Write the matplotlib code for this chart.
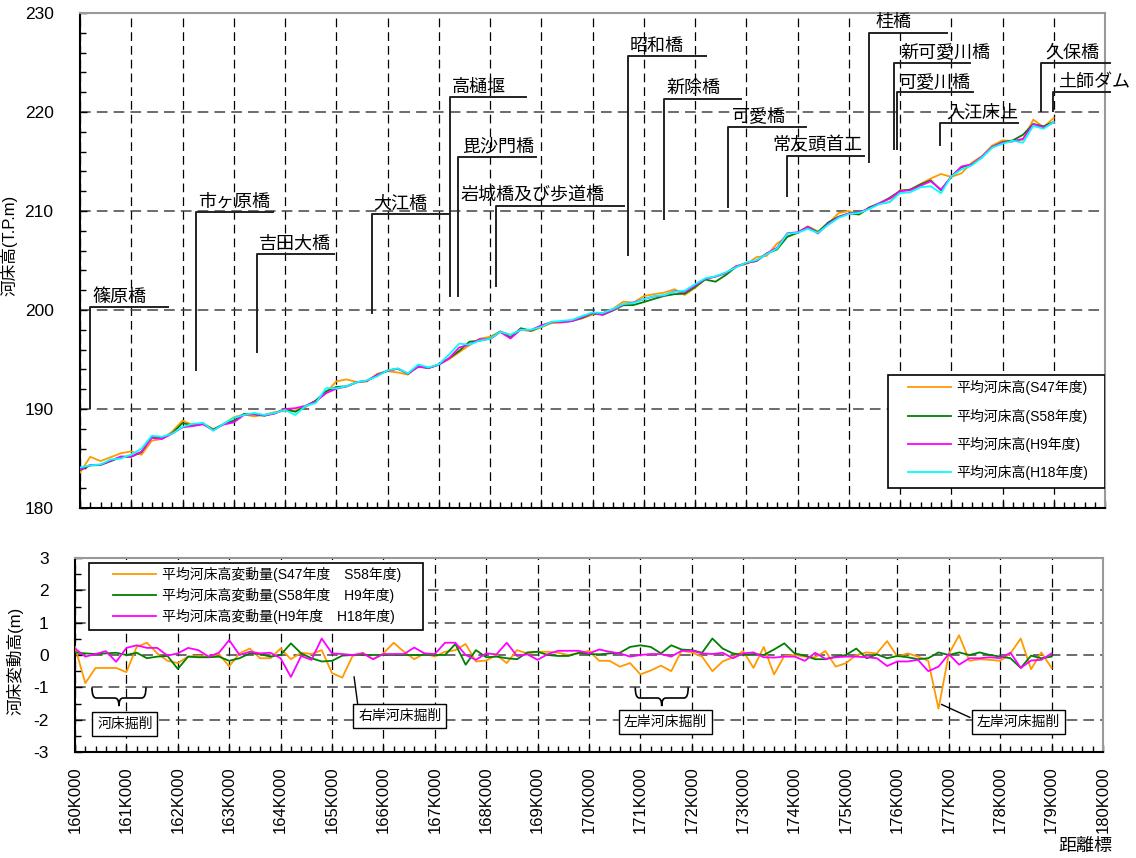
import numpy as np
import matplotlib
matplotlib.use('Agg')
import matplotlib.pyplot as plt
from matplotlib.ticker import MultipleLocator
from matplotlib.patches import Rectangle, PathPatch
from matplotlib.path import Path

plt.rcParams['font.family'] = ['Liberation Sans', 'Noto Sans CJK JP', 'DejaVu Sans']
plt.rcParams['axes.unicode_minus'] = False

# distance stations (km), every 200 m
km = [160.0, 160.2, 160.4, 160.6, 160.8, 161.0, 161.2, 161.4, 161.6, 161.8,
      162.0, 162.2, 162.4, 162.6, 162.8, 163.0, 163.2, 163.4, 163.6, 163.8,
      164.0, 164.2, 164.4, 164.6, 164.8, 165.0, 165.2, 165.4, 165.6, 165.8,
      166.0, 166.2, 166.4, 166.6, 166.8, 167.0, 167.2, 167.4, 167.6, 167.8,
      168.0, 168.2, 168.4, 168.6, 168.8, 169.0, 169.2, 169.4, 169.6, 169.8,
      170.0, 170.2, 170.4, 170.6, 170.8, 171.0, 171.2, 171.4, 171.6, 171.8,
      172.0, 172.2, 172.4, 172.6, 172.8, 173.0, 173.2, 173.4, 173.6, 173.8,
      174.0, 174.2, 174.4, 174.6, 174.8, 175.0, 175.2, 175.4, 175.6, 175.8,
      176.0, 176.2, 176.4, 176.6, 176.8, 177.0, 177.2, 177.4, 177.6, 177.8,
      178.0, 178.2, 178.4, 178.6, 178.8, 179.0]

# mean bed elevation H18 (T.P.m)
bed_h18 = [184.1, 184.3, 184.4, 184.9, 185.0, 185.4, 186.0, 187.3, 187.2, 187.5,
           188.2, 188.5, 188.6, 187.8, 188.5, 189.1, 189.4, 189.6, 189.4, 189.6,
           189.9, 189.4, 190.3, 190.6, 192.1, 192.1, 192.3, 192.7, 192.9, 193.3,
           193.9, 194.1, 193.6, 194.5, 194.2, 194.5, 195.5, 196.6, 196.5, 196.9,
           197.1, 197.8, 197.5, 198.0, 198.0, 198.3, 198.8, 198.9, 199.0, 199.4,
           199.75, 199.7, 200.1, 200.6, 200.7, 201.1, 201.4, 201.5, 201.85, 201.95,
           202.6, 203.2, 203.4, 203.8, 204.3, 204.8, 205.05, 205.65, 206.2, 207.7,
           207.8, 208.2, 207.8, 208.6, 209.3, 209.7, 209.8, 210.2, 210.7, 210.9,
           211.8, 211.9, 212.4, 212.5, 211.8, 213.5, 214.2, 214.6, 215.4, 216.4,
           216.8, 217.1, 216.9, 218.6, 218.3, 219.0]

# bed change (m)
chg_s47_s58 = [0.25, -0.87, -0.4, -0.4, -0.4, -0.53, 0.25, 0.38, 0.05, -0.18,
               -0.25, -0.05, -0.03, -0.05, 0.03, -0.35, 0.05, 0.2, -0.1, -0.1,
               0.2, -0.13, 0.07, 0.03, 0.15, -0.56, -0.7, -0.03, 0.07, -0.13,
               0.05, 0.38, 0.1, -0.13, 0.05, -0.05, 0.1, 0.15, 0.34, -0.2,
               -0.17, 0.0, -0.25, 0.15, 0.05, 0.1, 0.1, 0.07, 0.0, 0.05,
               0.13, -0.18, -0.18, -0.36, -0.25, -0.6, -0.48, -0.33, -0.5, 0.13,
               0.08, -0.05, -0.5, -0.2, -0.07, 0.12, -0.4, 0.25, -0.6, -0.03,
               0.0, -0.05, -0.07, 0.12, -0.36, -0.25, 0.0, 0.08, 0.05, 0.43,
               -0.05, 0.05, -0.05, -0.18, -1.66, 0.03, 0.61, -0.18, -0.13, -0.15,
               -0.18, 0.05, 0.51, -0.44, 0.08, -0.4]
chg_s58_h9 = [0.08, 0.05, 0.03, 0.05, 0.07, 0.0, 0.07, -0.1, -0.05, -0.03,
              -0.43, -0.05, -0.07, -0.07, -0.05, -0.18, -0.1, 0.05, 0.03, -0.05,
              0.0, 0.36, 0.05, -0.1, -0.2, -0.18, -0.02, 0.0, 0.0, 0.0,
              0.0, 0.0, 0.0, 0.0, 0.0, 0.0, 0.0, 0.34, -0.3, 0.15,
              -0.07, -0.05, -0.1, -0.13, 0.08, 0.1, 0.0, -0.03, -0.03, 0.07,
              0.03, 0.02, 0.05, 0.07, 0.25, 0.3, 0.25, 0.05, 0.3, 0.17,
              0.15, 0.07, 0.51, 0.2, 0.05, 0.0, 0.03, 0.0, 0.17, 0.36,
              0.05, -0.02, -0.13, -0.13, -0.05, 0.0, 0.2, -0.1, 0.02, -0.1,
              -0.03, -0.07, -0.13, -0.1, 0.08, 0.0, 0.08, 0.0, 0.08, 0.0,
              -0.05, -0.1, -0.4, -0.02, -0.1, -0.05]
chg_h9_h18 = [0.2, -0.05, 0.03, 0.12, -0.21, 0.22, 0.3, 0.22, 0.22, -0.02,
              0.05, 0.22, 0.15, -0.05, 0.07, 0.46, 0.0, 0.1, 0.05, 0.07,
              -0.1, -0.68, -0.03, -0.15, 0.51, 0.05, 0.03, 0.0, 0.05, -0.13,
              0.03, 0.03, 0.03, 0.23, 0.05, 0.03, 0.38, 0.38, 0.0, -0.15,
              0.05, 0.02, 0.38, -0.03, 0.02, -0.15, 0.03, 0.13, 0.13, 0.13,
              0.05, 0.17, 0.1, 0.05, -0.05, 0.0, 0.03, 0.03, -0.05, 0.13,
              0.13, 0.05, 0.03, 0.07, -0.1, 0.05, 0.08, -0.07, -0.08, -0.05,
              -0.05, -0.18, 0.07, -0.12, -0.07, -0.05, -0.05, -0.07, -0.1, -0.34,
              -0.2, -0.2, -0.15, -0.5, -0.36, 0.03, -0.3, -0.1, -0.1, -0.07,
              -0.1, 0.07, -0.4, -0.17, -0.15, 0.05]

# earlier surveys follow from the H18 bed and the plotted changes
bed_h9 = np.array(bed_h18) - np.array(chg_h9_h18)
bed_s58 = bed_h9 - np.array(chg_s58_h9)
bed_s47 = bed_s58 - np.array(chg_s47_s58)

top_labels = ['平均河床高(S47年度)', '平均河床高(S58年度)', '平均河床高(H9年度)', '平均河床高(H18年度)']
bot_labels = ['平均河床高変動量(S47年度\u3000S58年度)', '平均河床高変動量(S58年度\u3000H9年度)',
              '平均河床高変動量(H9年度\u3000H18年度)']
colors = ['#FF9900', '#008000', '#FF00FF', '#00FFFF']

# bridge / structure names: (name, km, line bottom, line top, underline end, text start)
bridges = [
    ('篠原橋', 160.2, 190.1, 200.3, 161.72, 160.25),
    ('市ヶ原橋', 162.26, 193.9, 209.9, 163.77, 162.3),
    ('吉田大橋', 163.45, 195.8, 205.65, 164.96, 163.5),
    ('大江橋', 165.69, 199.7, 209.7, 167.2, 165.72),
    ('高樋堰', 167.21, 201.45, 221.5, 168.71, 167.25),
    ('毘沙門橋', 167.38, 201.45, 215.5, 168.89, 167.45),
    ('岩城橋及び歩道橋', 168.11, 202.4, 210.55, 170.62, 167.43),
    ('昭和橋', 170.7, 205.6, 225.65, 172.21, 170.73),
    ('新除橋', 171.4, 209.2, 221.35, 172.9, 171.45),
    ('可愛橋', 172.64, 210.4, 218.5, 174.16, 172.73),
    ('常友頭首工', 173.79, 211.55, 215.6, 175.3, 173.52),
    ('桂橋', 175.4, 214.9, 228.0, 176.91, 175.53),
    ('新可愛川橋', 175.88, 216.3, 225.0, 177.37, 176.0),
    ('可愛川橋', 175.95, 216.3, 222.0, 177.43, 175.98),
    ('入江床止', 176.79, 216.7, 218.85, 178.31, 176.9),
    ('久保橋', 178.75, 220.1, 225.0, 180.1, 178.83),
    ('土師ダム', 178.99, 220.1, 222.0, 180.1, 179.08),
]

W, H = 1136, 858
fig = plt.figure(figsize=(W / 100, H / 100), dpi=100)
ax1 = fig.add_axes([80 / W, 1 - 508 / H, 1025 / W, 495 / H])
ax2 = fig.add_axes([75 / W, 1 - 752 / H, 1028 / W, 194 / H])


def style_axes(ax):
    ax.set_xlim(160, 180)
    ax.xaxis.set_major_locator(MultipleLocator(1))
    ax.xaxis.set_minor_locator(MultipleLocator(0.2))
    ax.tick_params(which='both', direction='in', top=False, right=False, width=1)
    ax.tick_params(which='major', length=5)
    ax.tick_params(which='minor', length=4)
    ax.tick_params(axis='y', labelsize=12.5, pad=19)
    ax.grid(True, axis='x', which='major', color='black', linestyle=(0, (7, 4)), linewidth=0.9)
    ax.grid(True, axis='y', which='major', color='#444444', linestyle=(0, (7, 4)), linewidth=1.1)
    for s in ['left', 'bottom']:
        ax.spines[s].set_linewidth(1.5)
    for s in ['top', 'right']:
        ax.spines[s].set_color('#999999')
        ax.spines[s].set_linewidth(1.5)
    ax.set_axisbelow(True)


# --- upper panel: bed elevation ---
style_axes(ax1)
ax1.set_ylim(180, 230)
ax1.yaxis.set_major_locator(MultipleLocator(10))
ax1.yaxis.set_minor_locator(MultipleLocator(2))
ax1.set_xticklabels([])
for series, c in zip([bed_s47, bed_s58, bed_h9, bed_h18], colors):
    ax1.plot(km, series, color=c, linewidth=1.3, zorder=3)
ax1.set_ylabel('河床高(T.P.m)', fontsize=12)
ax1.yaxis.set_label_coords(-0.061, 0.53)

for name, x, yb, yt, xr, xt in bridges:
    ax1.plot([x, x, xr], [yb, yt, yt], color='#222222', linewidth=1.4, zorder=4, clip_on=False)
    ax1.text(xt, yt + 0.15, name, fontsize=13, ha='left', va='bottom', zorder=4, clip_on=False)

ax1.add_patch(Rectangle((0.788, 0.040), 0.212, 0.229, transform=ax1.transAxes,
                        facecolor='white', edgecolor='black', linewidth=1.2, zorder=5))
h1 = ax1.get_lines()[:4]
leg1 = ax1.legend(h1, top_labels, loc='upper left', bbox_to_anchor=(0.8078, 0.258),
                  frameon=False, fontsize=10, borderpad=0, borderaxespad=0,
                  handlelength=3.1, handletextpad=0.4, labelspacing=0.95)
leg1.set_zorder(6)

# --- lower panel: bed change ---
style_axes(ax2)
ax2.set_ylim(-3, 3)
ax2.yaxis.set_major_locator(MultipleLocator(1))
ax2.yaxis.set_minor_locator(MultipleLocator(0.5))
ax2.set_xticks(range(160, 181))
ax2.set_xticklabels([f'{k}K000' for k in range(160, 181)], rotation=90, fontsize=12)
ax2.tick_params(axis='x', pad=10)
lines2 = []
for series, c in zip([chg_s47_s58, chg_s58_h9, chg_h9_h18], colors[:3]):
    ln, = ax2.plot(km, series, color=c, linewidth=1.3, zorder=3)
    lines2.append(ln)
ax2.set_ylabel('河床変動高(m)', fontsize=12)
ax2.yaxis.set_label_coords(-0.05, 0.47)

ax2.add_patch(Rectangle((0.0136, 0.629), 0.325, 0.345, transform=ax2.transAxes,
                        facecolor='white', edgecolor='black', linewidth=1.2, zorder=5))
leg2 = ax2.legend(lines2, bot_labels, loc='upper left', bbox_to_anchor=(0.037, 0.955),
                  frameon=False, fontsize=10, borderpad=0, borderaxespad=0,
                  handlelength=3.1, handletextpad=0.4, labelspacing=0.42)
leg2.set_zorder(6)


def brace(ax, x0, x1, ytop=-1.0, ymid=-1.33, ybot=-1.58, dx=0.08):
    xc = (x0 + x1) / 2
    verts = [(x0, ytop), (x0, ymid), (x0 + dx, ymid), (xc - dx, ymid), (xc, ymid), (xc, ybot),
             (xc, ymid), (xc + dx, ymid), (x1 - dx, ymid), (x1, ymid), (x1, ytop)]
    codes = [Path.MOVETO, Path.CURVE3, Path.CURVE3, Path.LINETO, Path.CURVE3, Path.CURVE3,
             Path.CURVE3, Path.CURVE3, Path.LINETO, Path.CURVE3, Path.CURVE3]
    ax.add_patch(PathPatch(Path(verts, codes), facecolor='none', edgecolor='black',
                           linewidth=1.2, zorder=4))


box = dict(boxstyle='square,pad=0.35', facecolor='white', edgecolor='black', linewidth=1)
brace(ax2, 160.33, 161.38)
ax2.text(160.97, -2.14, '河床掘削', fontsize=10, ha='center', va='center', bbox=box, zorder=6)
ax2.plot([165.43, 165.5], [-0.68, -1.52], color='black', linewidth=1, zorder=4)
ax2.text(166.32, -1.89, '右岸河床掘削', fontsize=10, ha='center', va='center', bbox=box, zorder=6)
brace(ax2, 170.9, 171.93)
ax2.text(171.48, -2.07, '左岸河床掘削', fontsize=10, ha='center', va='center', bbox=box, zorder=6)
ax2.plot([176.86, 177.41], [-1.53, -1.93], color='black', linewidth=1, zorder=4)
ax2.text(178.35, -2.07, '左岸河床掘削', fontsize=10, ha='center', va='center', bbox=box, zorder=6)

fig.text(0.955, 0.004, '距離標', fontsize=13, ha='center', va='bottom')

fig.savefig('out.png', dpi=100)
